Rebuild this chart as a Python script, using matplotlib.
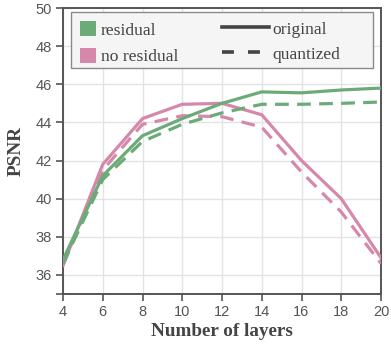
import matplotlib
matplotlib.use("Agg")
import matplotlib.pyplot as plt
from matplotlib.patches import Patch, Rectangle
from matplotlib.lines import Line2D

layers = [4, 6, 8, 10, 12, 14, 16, 18, 20]
res_orig = [36.8, 41.2, 43.3, 44.2, 45.0, 45.6, 45.55, 45.7, 45.8]
res_quant = [36.6, 41.0, 43.0, 43.9, 44.5, 44.95, 44.95, 45.0, 45.07]
nores_orig = [36.5, 41.8, 44.2, 44.95, 45.0, 44.4, 42.0, 40.0, 36.9]
nores_quant = [36.5, 41.5, 43.9, 44.35, 44.3, 43.75, 41.4, 39.3, 36.6]
xticks = [4, 6, 8, 10, 12, 14, 16, 18, 20]
yticks = [36, 38, 40, 42, 44, 46, 48, 50]

GREEN = "#6cab77"
PINK = "#d688aa"
SPINE = "#555555"

fig = plt.figure(figsize=(3.91, 3.47), dpi=100)
ax = fig.add_axes([63/391, 1-294/347, 318/391, 286/347])

lw = 2.3
dash = (4.3, 2.6)
ax.plot(layers, nores_orig, color=PINK, lw=lw, zorder=3)
ax.plot(layers, nores_quant, color=PINK, lw=lw, dashes=dash, zorder=3)
ax.plot(layers, res_orig, color=GREEN, lw=lw, zorder=3)
ax.plot(layers, res_quant, color=GREEN, lw=lw, dashes=dash, zorder=3)

ax.set_xlim(4, 20)
ax.set_ylim(35, 50)
ax.set_xticks(xticks)
ax.set_yticks([35] + yticks)
ax.set_yticklabels([""] + [str(v) for v in yticks])
ax.grid(True, color="#e3e3e3", lw=1.0, zorder=0)
ax.set_axisbelow(True)

for s in ax.spines.values():
    s.set_color(SPINE)
    s.set_linewidth(1.4)
ax.tick_params(axis="both", direction="out", length=5, width=1.2, color=SPINE,
               labelcolor="#555555", labelsize=10.5, pad=3)
for lab in ax.get_xticklabels() + ax.get_yticklabels():
    lab.set_family("Liberation Sans")

ax.set_xlabel("Number of layers", family="Liberation Serif", weight="bold",
              fontsize=13.8, color="#444444", labelpad=3)
ax.set_ylabel("PSNR", family="Liberation Serif", weight="bold",
              fontsize=13.8, color="#444444", labelpad=8)

# Legend frame
ax.add_patch(Rectangle((0.025, 0.79), 0.95, 0.196, transform=ax.transAxes,
                       facecolor="#f4f5f4", edgecolor="#8a8a8a", lw=1.0, zorder=5))

h1 = [Patch(facecolor=GREEN, edgecolor="none", label="residual"),
      Patch(facecolor=PINK, edgecolor="none", label="no residual")]
leg1 = ax.legend(handles=h1, loc="upper left", bbox_to_anchor=(0.03, 0.978),
                 frameon=False, handlelength=0.95, handleheight=0.95,
                 handletextpad=0.25, labelspacing=0.5, borderaxespad=0,
                 prop={"family": "Liberation Serif", "size": 12.6})
for t in leg1.get_texts():
    t.set_color("#444444")
leg1.set_zorder(6)
ax.add_artist(leg1)

h2 = [Line2D([], [], color="#444444", lw=2.6, label="original"),
      Line2D([], [], color="#444444", lw=2.6, dashes=(3.3, 3.9), label="quantized")]
leg2 = ax.legend(handles=h2, loc="upper left", bbox_to_anchor=(0.478, 0.978),
                 frameon=False, handlelength=2.7, handletextpad=0.2,
                 labelspacing=0.5, borderaxespad=0,
                 prop={"family": "Liberation Serif", "size": 12.6})
for t in leg2.get_texts():
    t.set_color("#444444")
leg2.set_zorder(6)

fig.savefig("out.png", dpi=100)
